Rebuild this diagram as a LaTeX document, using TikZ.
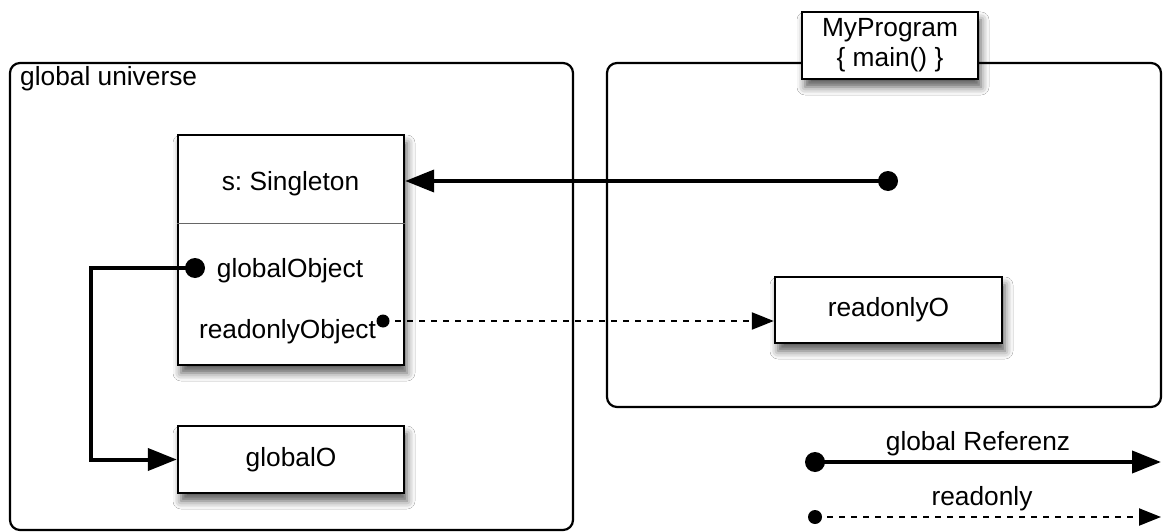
\documentclass[tikz,border=0pt]{standalone}
\usepackage{fontspec}
\setmainfont{Liberation Sans}
\usetikzlibrary{arrows.meta,shadows.blur}
\frenchspacing
\begin{document}
\begin{tikzpicture}[x=1pt,y=-1pt,
  every node/.style={font=\fontsize{26.3}{30}\selectfont},
  container/.style={draw, line width=2.2pt, rounded corners=10pt, rectangle, inner sep=0pt},
  objbox/.style={draw, line width=2.4pt, fill=white, rectangle, inner sep=0pt,
    blur shadow={shadow xshift=3pt, shadow yshift=-8pt, shadow blur radius=8pt, shadow opacity=65}},
  bigdot/.style={circle, fill, inner sep=0pt, minimum size=20pt},
  smalldot/.style={circle, fill, inner sep=0pt, minimum size=13pt},
  globalref/.style={line width=4pt, -{Triangle[length=29pt,width=22pt]}},
  roref/.style={line width=2.2pt, dash pattern=on 6pt off 6pt, -{Triangle[length=22pt,width=17pt]}},
  divider/.style={line width=1pt, black!60},
]
\useasboundingbox (0,0) rectangle (1164,532);
\fill[white] (0,0) rectangle (1164,532);

% the two regions
\node[container, minimum width=563pt, minimum height=467pt] (universe) at (291.5,296.5) {};
\node[anchor=base west, inner sep=0pt] (univlabel) at (20,86) {global universe};
\node[container, minimum width=554pt, minimum height=344pt] (program) at (884,235) {};

% program header
\node[objbox, minimum width=176pt, minimum height=67pt, align=center] (myprog) at (890,45.5) {MyProgram\\\{ main() \}};

% singleton object
\node[objbox, minimum width=226pt, minimum height=230pt] (sing) at (291,250) {};
\coordinate (divy) at (0,223);
\draw[divider] (sing.west |- divy) -- (sing.east |- divy);
\node[anchor=base] (stitle) at (290.5,190) {s: Singleton};
\node[anchor=base] (gobj) at (290,277) {globalObject};
\node[anchor=base] (robj) at (287.5,338) {readonlyObject};

% referenced objects
\node[objbox, minimum width=226pt, minimum height=67pt] (globalO) at (291,459.5) {globalO};
\node[objbox, minimum width=227pt, minimum height=66pt] (ro) at (888.5,310) {readonlyO};

% references
\node[bigdot] (srcdot) at (888,181) {};
\draw[globalref] (srcdot.center) -- (srcdot.center -| sing.east);

\node[bigdot] (gdot) at (195,268) {};
\coordinate (bend) at (91,268);
\draw[globalref] (gdot.center) -- (bend) |- (globalO.west);

\node[smalldot] (rdot) at (383,321) {};
\draw[roref] (rdot.center) -- (rdot.center -| ro.west);

% legend
\node[bigdot] (lg1) at (815,462) {};
\coordinate (lg1end) at (1161,462);
\draw[globalref] (lg1.center) -- (lg1end);
\node[anchor=base] (lg1text) at (978,450) {global Referenz};

\node[smalldot, minimum size=14pt] (lg2) at (815,517) {};
\coordinate (lg2end) at (1161,517);
\draw[roref] (lg2.center) -- (lg2end);
\node[anchor=base] (lg2text) at (982,505) {readonly};
\end{tikzpicture}
\end{document}
